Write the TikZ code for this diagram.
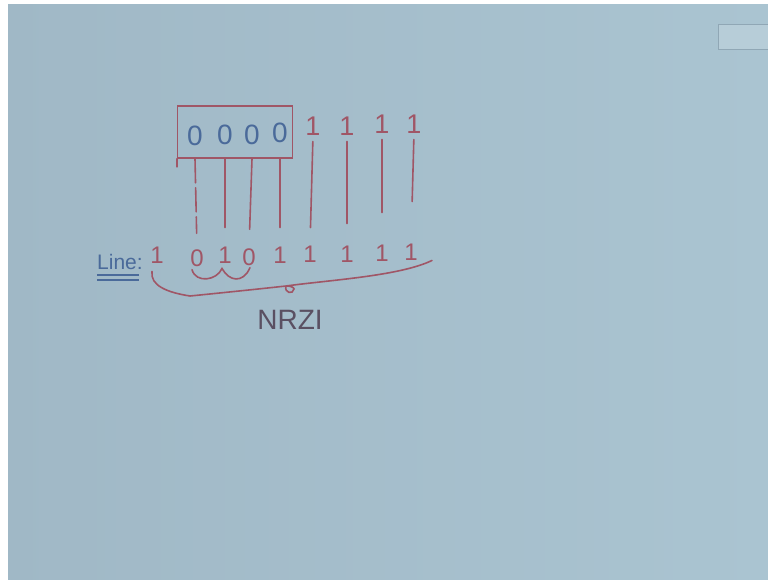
\documentclass[tikz,border=0pt]{standalone}
\usepackage{fontspec}
\setmainfont{Liberation Sans}
\usepackage{xcolor}
\definecolor{boardBg}{HTML}{AAC4D1}
\definecolor{boardDark}{HTML}{A0B8C6}
\definecolor{penRed}{HTML}{A05666}
\definecolor{penBlue}{HTML}{4A6A9A}
\definecolor{penDark}{HTML}{5A5062}
\definecolor{markGray}{HTML}{90A7B5}
\usepackage{tikz}
\usetikzlibrary{positioning,calc}
\tikzset{
    regbox/.style={
        draw=penRed,
        rectangle,
        line width=1.7pt,
        minimum width=115pt,
        minimum height=52pt,
        inner sep=0pt
    },
    bitin/.style={
        text=penBlue,
        inner sep=0pt,
        font=\fontsize{28}{28}\selectfont
    },
    bittop/.style={
        text=penRed,
        inner sep=0pt,
        font=\fontsize{27}{27}\selectfont
    },
    bitout/.style={
        text=penRed,
        inner sep=0pt,
        font=\fontsize{24}{24}\selectfont
    },
    wire/.style={
        draw=penRed,
        line width=1.6pt,
        line cap=round
    },
    linelbl/.style={
        text=penBlue,
        inner sep=0pt,
        font=\fontsize{21}{21}\selectfont
    },
    codelbl/.style={
        text=penDark,
        inner sep=0pt,
        font=\fontsize{28}{28}\selectfont
    }
}

\begin{document}
\begin{tikzpicture}[x=1pt, y=-1pt]
    % Board
    \shade[left color=boardDark, right color=boardBg] (0,0) rectangle (768,580);
    \fill[white] (0,0) rectangle (8,580);
    \fill[white] (0,0) rectangle (768,4);
    \useasboundingbox (0,0) rectangle (768,579);
    \node[draw=markGray, fill=boardBg!85!white, line width=0.8pt, minimum width=52pt, minimum height=25pt, inner sep=0pt]
        (mark) at (744,37) {};

    % Register with the data bits
    \node[regbox] (reg) at (235,132) {};
    \draw[wire, line width=1.7pt] (reg.south west) -- ++(0,8);
    \node[bitin] (t1) at (195,136) {0};
    \node[bitin] (t2) at (225,135) {0};
    \node[bitin] (t3) at (252,135) {0};
    \node[bitin] (t4) at (280,133) {0};
    \node[bittop] (t5) at (313,126) {1};
    \node[bittop] (t6) at (347,126) {1};
    \node[bittop] (t7) at (382,124) {1};
    \node[bittop] (t8) at (414,124) {1};

    % Line signal
    \node[linelbl] (lbl) at (120,262) {Line:};
    \draw[penBlue, line width=1.4pt] ($(lbl.south west)+(0,5)$) -- ($(lbl.south east)+(-4,5)$);
    \draw[penBlue, line width=1.4pt] ($(lbl.south west)+(0,10)$) -- ($(lbl.south east)+(-4,10)$);
    \node[bitout] (b1) at (157,255) {1};
    \node[bitout] (b2) at (197,258) {0};
    \node[bitout] (b3) at (225,255) {1};
    \node[bitout] (b4) at (249,257) {0};
    \node[bitout] (b5) at (280,255) {1};
    \node[bitout] (b6) at (310,254) {1};
    \node[bitout] (b7) at (347,254) {1};
    \node[bitout] (b8) at (382,253) {1};
    \node[bitout] (b9) at (411,252) {1};

    % Columns from data bits down to the line
    \draw[wire, dash pattern=on 24pt off 5pt] (t1 |- reg.south) -- (b2.north) [shorten >=16pt];
    \foreach \i/\j in {2/3,3/4,4/5}
        \draw[wire, shorten >=19pt] (t\i |- reg.south) -- (b\j.north);
    \foreach \i/\j/\gap in {5/6/18,6/7/22,7/8/32,8/9/42}
        \draw[wire, shorten <=6pt, shorten >=\gap pt] (t\i.south) -- (b\j.north);

    % Braces
    \draw[wire] ($(b2.south)+(-5,3)$) .. controls ($(b2.south)+(-1,17)$) and ($(b3.south)+(-8,17)$) .. ($(b3.south)+(-3,5)$)
        .. controls ($(b3.south)+(4,18)$) and ($(b4.south)+(-6,18)$) .. ($(b4.south)+(1,2)$);
    \coordinate (tip) at (290,290);
    \draw[wire] ($(b1.south)+(-5,8)$) .. controls ($(b1.south)+(-7,22)$) and ($(b1.south)+(10,29)$) .. (190,296)
        .. controls (230,292) and (268,288) .. (286,286)
        .. controls (284,293) and (293,295) .. (294,289)
        .. controls (294,287) and (290,286) .. (286,286)
        .. controls (330,280) and (400,276) .. ($(b9.south)+(21,0)$);
    \node[codelbl, below=20pt of tip] (code) {NRZI};
\end{tikzpicture}
\end{document}
